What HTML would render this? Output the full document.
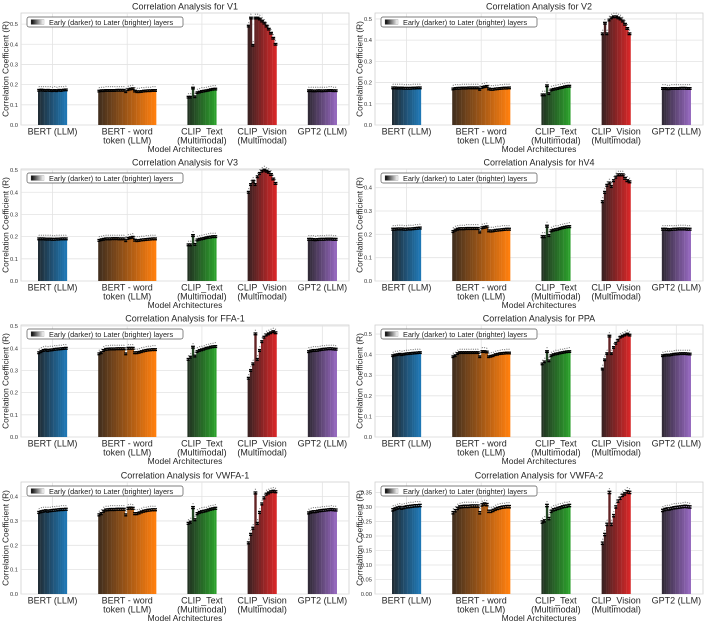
<!DOCTYPE html>
<html><head><meta charset="utf-8"><style>
body{margin:0;background:#fff;}
svg{display:block;font-family:"Liberation Sans",sans-serif;}
</style></head><body>
<svg id="c" width="708" height="625" viewBox="0 0 708 625"></svg>
<script>
const categories=["BERT (LLM)|","BERT - word|token (LLM)","CLIP_Text|(Multimodal)","CLIP_Vision|(Multimodal)","GPT2 (LLM)|"];
const regions=["V1","V2","V3","hV4","FFA-1","PPA","VWFA-1","VWFA-2"];
const yMaxes=[0.555,0.528,0.505,0.48,0.505,0.544,0.46,0.386];
const tickLabels=[["0.0","0.1","0.2","0.3","0.4","0.5"],["0.0","0.1","0.2","0.3","0.4","0.5"],["0.0","0.1","0.2","0.3","0.4","0.5"],["0.0","0.1","0.2","0.3","0.4"],["0.0","0.1","0.2","0.3","0.4","0.5"],["0.0","0.1","0.2","0.3","0.4","0.5"],["0.0","0.1","0.2","0.3","0.4"],["0.00","0.05","0.10","0.15","0.20","0.25","0.30","0.35"]];
const bertVals=[
[0.172,0.173,0.172,0.171,0.172,0.171,0.170,0.171,0.170,0.172,0.171,0.173,0.174],
[0.175,0.175,0.174,0.174,0.174,0.173,0.173,0.173,0.173,0.174,0.174,0.175,0.175],
[0.19,0.19,0.19,0.189,0.189,0.189,0.188,0.188,0.189,0.189,0.19,0.19,0.19],
[0.222,0.222,0.223,0.223,0.223,0.222,0.222,0.223,0.223,0.224,0.225,0.226,0.227],
[0.38,0.385,0.39,0.392,0.39,0.392,0.393,0.395,0.396,0.397,0.398,0.399,0.40],
[0.395,0.398,0.40,0.402,0.40,0.402,0.404,0.405,0.406,0.407,0.408,0.409,0.41],
[0.335,0.338,0.34,0.342,0.34,0.342,0.343,0.344,0.345,0.346,0.347,0.347,0.348],
[0.29,0.293,0.296,0.298,0.296,0.298,0.3,0.301,0.302,0.303,0.304,0.304,0.305]];
const wordVals=[
[0.168,0.17,0.17,0.171,0.171,0.171,0.171,0.171,0.172,0.172,0.172,0.172,0.165,0.175,0.178,0.18,0.168,0.165,0.165,0.166,0.168,0.169,0.17,0.17,0.171,0.171],
[0.17,0.172,0.173,0.173,0.174,0.174,0.174,0.175,0.175,0.175,0.175,0.175,0.168,0.177,0.18,0.182,0.17,0.168,0.168,0.17,0.171,0.172,0.173,0.174,0.174,0.175],
[0.183,0.186,0.188,0.19,0.19,0.19,0.191,0.191,0.191,0.19,0.19,0.19,0.182,0.192,0.195,0.197,0.184,0.182,0.183,0.185,0.186,0.187,0.188,0.189,0.19,0.19],
[0.212,0.218,0.222,0.224,0.224,0.224,0.225,0.225,0.225,0.225,0.225,0.225,0.21,0.228,0.23,0.232,0.215,0.214,0.215,0.217,0.218,0.219,0.22,0.221,0.222,0.222],
[0.375,0.38,0.39,0.395,0.396,0.397,0.397,0.397,0.398,0.398,0.398,0.398,0.375,0.4,0.4,0.4,0.38,0.38,0.382,0.385,0.388,0.39,0.392,0.393,0.394,0.394],
[0.39,0.395,0.405,0.41,0.41,0.41,0.41,0.41,0.41,0.41,0.41,0.41,0.39,0.415,0.415,0.413,0.39,0.392,0.395,0.4,0.402,0.405,0.406,0.407,0.408,0.408],
[0.325,0.33,0.34,0.345,0.346,0.347,0.347,0.347,0.348,0.348,0.348,0.348,0.325,0.352,0.353,0.352,0.33,0.33,0.333,0.337,0.34,0.342,0.344,0.345,0.346,0.346],
[0.28,0.287,0.295,0.3,0.301,0.302,0.302,0.302,0.303,0.303,0.303,0.303,0.28,0.307,0.31,0.308,0.285,0.285,0.288,0.292,0.295,0.297,0.299,0.3,0.301,0.301]];
const clipTextVals=[
[0.138,0.138,0.183,0.140,0.160,0.163,0.166,0.168,0.170,0.172,0.175,0.177,0.178],
[0.142,0.142,0.185,0.148,0.165,0.168,0.17,0.172,0.175,0.177,0.18,0.182,0.183],
[0.163,0.163,0.205,0.165,0.185,0.188,0.19,0.192,0.195,0.197,0.198,0.2,0.2],
[0.19,0.19,0.235,0.195,0.215,0.218,0.22,0.222,0.225,0.228,0.23,0.232,0.233],
[0.35,0.36,0.405,0.365,0.385,0.39,0.393,0.396,0.40,0.402,0.405,0.407,0.408],
[0.355,0.365,0.415,0.37,0.395,0.40,0.403,0.405,0.408,0.41,0.412,0.414,0.415],
[0.29,0.295,0.355,0.305,0.33,0.335,0.338,0.34,0.342,0.345,0.348,0.35,0.352],
[0.248,0.252,0.305,0.26,0.285,0.29,0.292,0.295,0.297,0.3,0.302,0.303,0.305]];
const clipVisionVals=[
[0.49,0.53,0.395,0.53,0.53,0.525,0.515,0.505,0.49,0.475,0.455,0.43,0.40],
[0.43,0.48,0.43,0.495,0.505,0.51,0.51,0.505,0.50,0.49,0.475,0.455,0.43],
[0.40,0.435,0.45,0.435,0.47,0.485,0.495,0.50,0.495,0.49,0.48,0.46,0.44],
[0.34,0.38,0.41,0.42,0.405,0.43,0.445,0.455,0.455,0.455,0.44,0.43,0.425],
[0.265,0.30,0.33,0.465,0.35,0.39,0.43,0.45,0.46,0.465,0.47,0.475,0.47],
[0.33,0.375,0.405,0.49,0.405,0.435,0.455,0.47,0.485,0.49,0.495,0.50,0.495],
[0.21,0.245,0.27,0.415,0.29,0.335,0.37,0.395,0.41,0.415,0.42,0.422,0.42],
[0.175,0.205,0.24,0.35,0.24,0.27,0.30,0.32,0.33,0.34,0.345,0.352,0.35]];
const gptVals=[
[0.17,0.17,0.169,0.169,0.17,0.17,0.169,0.17,0.17,0.171,0.171,0.17,0.17],
[0.172,0.172,0.171,0.171,0.172,0.172,0.172,0.172,0.173,0.173,0.173,0.172,0.172],
[0.188,0.188,0.187,0.186,0.187,0.188,0.188,0.188,0.189,0.189,0.189,0.188,0.188],
[0.222,0.222,0.221,0.22,0.221,0.222,0.222,0.223,0.223,0.223,0.223,0.222,0.222],
[0.385,0.388,0.39,0.39,0.391,0.393,0.395,0.396,0.397,0.398,0.398,0.397,0.396],
[0.395,0.397,0.398,0.398,0.4,0.402,0.403,0.404,0.405,0.405,0.405,0.404,0.403],
[0.333,0.336,0.338,0.338,0.34,0.342,0.343,0.344,0.345,0.346,0.347,0.346,0.345],
[0.288,0.291,0.293,0.293,0.295,0.297,0.298,0.299,0.3,0.301,0.302,0.301,0.3]];
const baseColors=["#1f77b4","#ff7f0e","#2ca02c","#d62728","#9467bd"];

const NS="http://www.w3.org/2000/svg";
const svg=document.getElementById('c');
function mk(tag,attrs,parent){const e=document.createElementNS(NS,tag);for(const k in attrs)e.setAttribute(k,attrs[k]);(parent||svg).appendChild(e);return e;}
function hex(c){return [1,3,5].map(i=>parseInt(c.substr(i,2),16));}
function mix(a,b,t){return 'rgb('+a.map((v,i)=>Math.round(v+(b[i]-v)*t)).join(',')+')';}
const defs=mk('defs',{});
const lg=mk('linearGradient',{id:'lg'},defs);
mk('stop',{offset:'0','stop-color':'#000'},lg);mk('stop',{offset:'1','stop-color':'#fff'},lg);

const axL=21,axW=328,axH=112,tops=[13,169,325,482],unit=2.23,gapU=14,startX=38;
for(let p=0;p<8;p++){
  const ox=(p%2)*354, top=tops[Math.floor(p/2)], y0=top+axH;
  const g=mk('g',{});
  
  
  const ymax=yMaxes[p];
  const ys=v=>y0-v/ymax*axH;
  const groups=[bertVals[p],wordVals[p],clipTextVals[p],clipVisionVals[p],gptVals[p]];
  const t=mk('text',{x:ox+axL+axW/2,y:top-3.5,'text-anchor':'middle','font-size':'9',fill:'#262626'},g);
  t.textContent='Correlation Analysis for '+regions[p];
  
  mk('rect',{x:ox+axL,y:top,width:axW,height:axH,fill:'#fff',stroke:'#d0d0d0','stroke-width':'0.8'},g);
  tickLabels[p].forEach(s=>{const v=parseFloat(s),y=ys(v);
    mk('line',{x1:ox+axL,x2:ox+axL+axW,y1:y,y2:y,stroke:'#e3e3e3','stroke-width':'0.8'},g);
    const tl=mk('text',{x:ox+axL-3,y:y+2,'text-anchor':'end','font-size':'5.8',fill:'#333'},g);tl.textContent=s;
    });
  let u=0;
  groups.forEach((vals,gi)=>{
    const n=vals.length, gx0=startX+u*unit, cx=ox+gx0+n*unit/2;
    mk('line',{x1:cx,x2:cx,y1:top,y2:y0,stroke:'#e3e3e3','stroke-width':'0.8'},g);
    const bc=hex(baseColors[gi]), dc=bc.map(v=>v*0.15+28);
    vals.forEach((v,i)=>{
      const x=ox+startX+(u+i)*unit, y=ys(v);
      const r=mk('rect',{x:x,y:y,width:unit+0.15,height:y0-y,fill:mix(dc,bc,i/(n-1))},g);
      
      const e=0.004, yt=ys(v+e), yb=ys(v-e);
      mk('line',{x1:x+unit/2,x2:x+unit/2,y1:yt,y2:yb,stroke:'#000','stroke-width':'0.8'},g);
      mk('line',{x1:x-0.8,x2:x+unit+0.8,y1:yt,y2:yt,stroke:'#000','stroke-width':'1.3'},g);
      mk('line',{x1:x-0.8,x2:x+unit+0.8,y1:yb,y2:yb,stroke:'#000','stroke-width':'1.3'},g);
      const s=mk('text',{x:x+unit/2,y:yt-1,'text-anchor':'middle','font-size':'4',fill:'#333'},g);s.textContent='*';
    });
    const parts=categories[gi].split('|');
    const l1=mk('text',{x:cx,y:y0+9.5,'text-anchor':'middle','font-size':'9',fill:'#262626'},g);l1.textContent=parts[0];
    
    if(parts[1]){const l2=mk('text',{x:cx,y:y0+18.5,'text-anchor':'middle','font-size':'9',fill:'#262626'},g);l2.textContent=parts[1];}
    u+=n+gapU;
  });
  const xl=mk('text',{x:ox+axL+axW/2,y:y0+27,'text-anchor':'middle','font-size':'8.5',fill:'#262626'},g);xl.textContent='Model Architectures';
  
  const yl=mk('text',{x:0,y:0,'text-anchor':'middle','font-size':'8.3',fill:'#262626',transform:'translate('+(ox+8.5)+','+(top+axH/2)+') rotate(-90)'},g);yl.textContent='Correlation Coefficient (R)';
  
  const lgG=mk('g',{},g);
  
  mk('rect',{x:ox+27,y:top+4,width:156,height:10,rx:2,fill:'#fff',stroke:'#555','stroke-width':'0.7'},lgG);
  mk('rect',{x:ox+31,y:top+6.5,width:13,height:5,fill:'url(#lg)',stroke:'#888','stroke-width':'0.3'},lgG);
  const lt=mk('text',{x:ox+49,y:top+11.8,'font-size':'7.3',fill:'#222'},lgG);lt.textContent='Early (darker) to Later (brighter) layers';
}
</script>
</body></html>
